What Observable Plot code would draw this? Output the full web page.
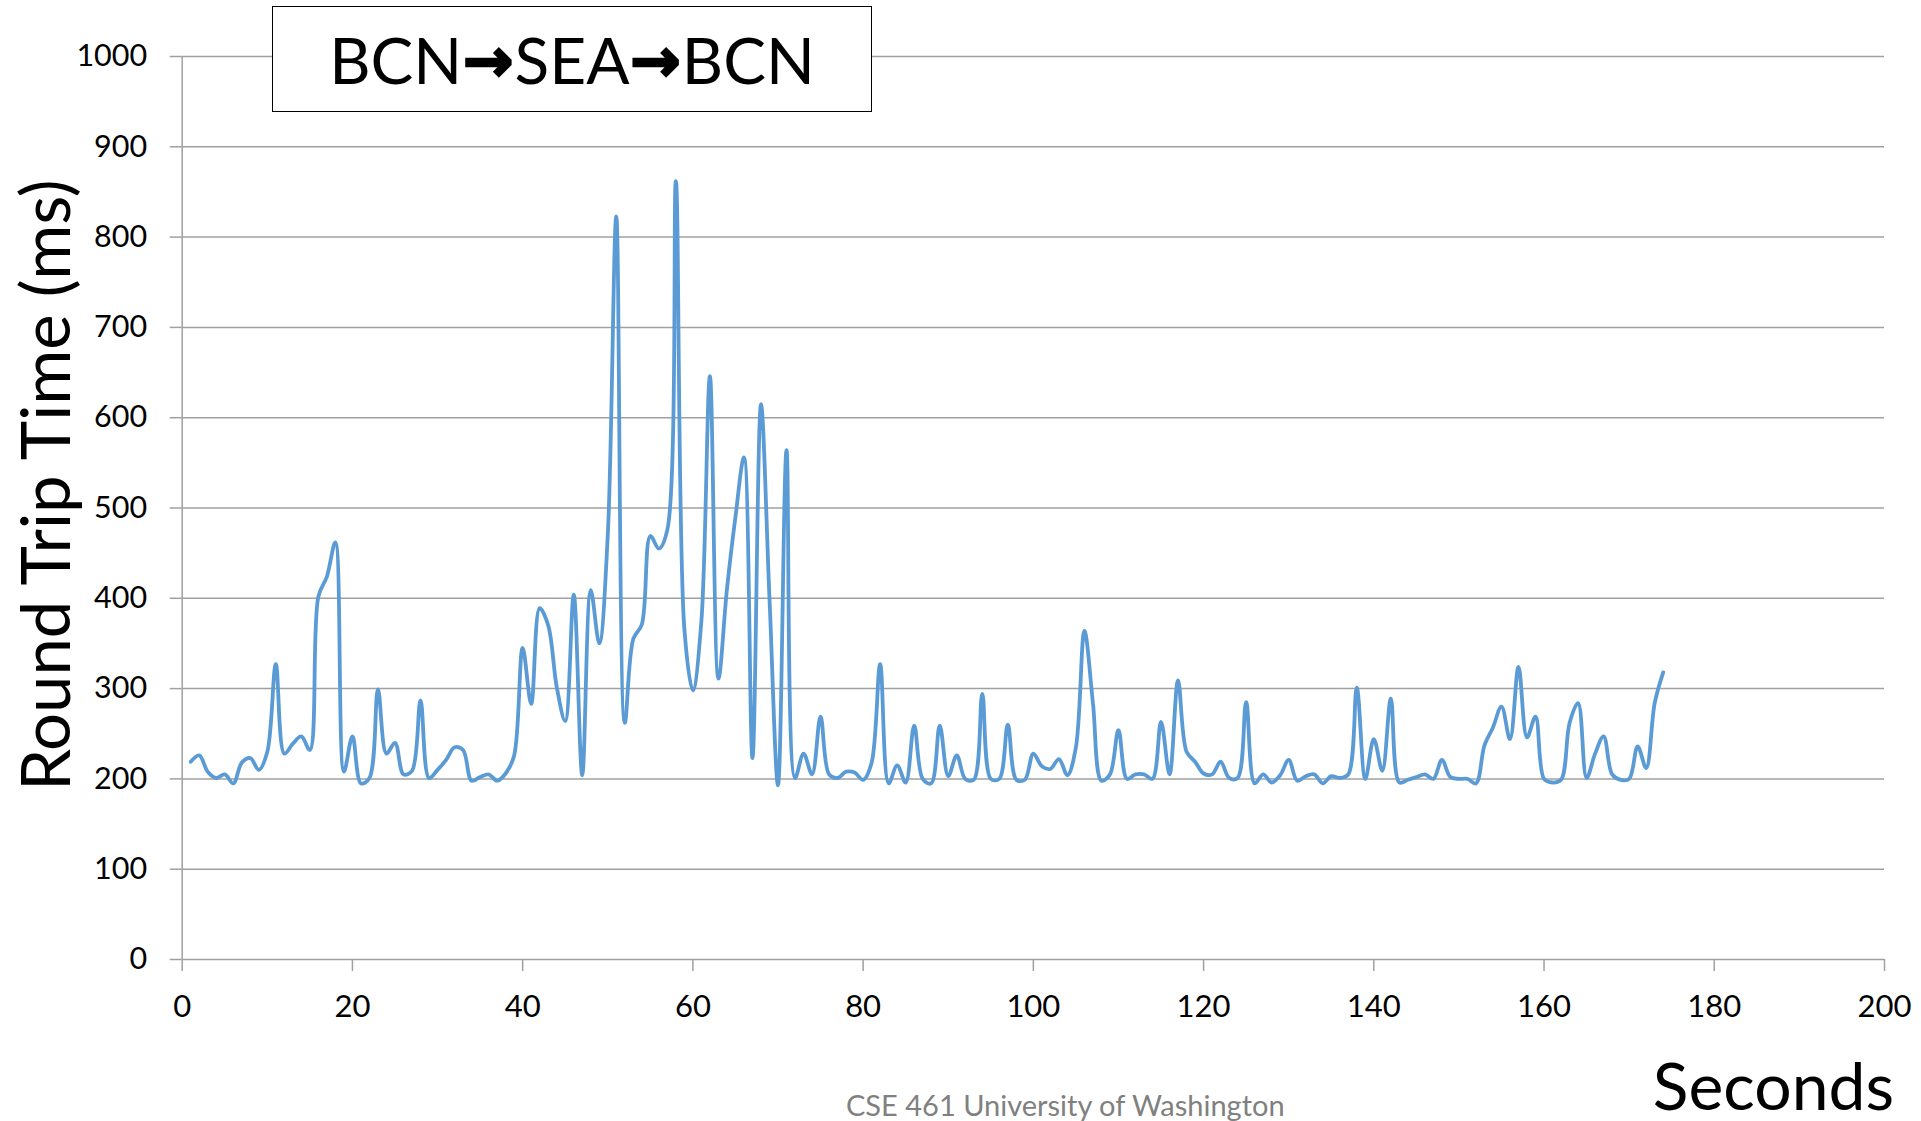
<!DOCTYPE html>
<html>
<head>
<meta charset="utf-8">
<script src="https://cdn.jsdelivr.net/npm/d3@7"></script>
<script src="https://cdn.jsdelivr.net/npm/@observablehq/plot@0.6"></script>
<style>
  html, body { margin: 0; padding: 0; background: #fff; overflow: hidden; }
  #wrap { position: relative; width: 1921px; height: 1121px; font-family: Lato, "Open Sans", sans-serif; }
  #chart { position: absolute; left: 0; top: 0; }
  .title-box { position: absolute; left: 272px; top: 6px; width: 598px; height: 102px; border: 1.5px solid #000; background: #fff;
    display: flex; align-items: center; justify-content: center; font-size: 64px; color: #000; line-height: 1; padding-top: 2px; }
  .arrow { font-family: "DejaVu Sans", sans-serif; font-weight: bold; font-size: 60px; margin: 0 1px; -webkit-text-stroke: 2.5px #000; }
  .ylabel { position: absolute; left: 44px; top: 485px; transform: translate(-50%, -50%) rotate(-90deg); font-size: 67px; line-height: 1; white-space: nowrap; color: #000; }
  .xlabel { position: absolute; right: 27px; top: 1052px; font-size: 66px; line-height: 1; color: #000; white-space: nowrap; }
  .caption { position: absolute; left: 846px; top: 1090px; font-size: 29px; line-height: 1; color: #808080; white-space: nowrap; }
</style>
</head>
<body>
<div id="wrap">
  <div id="chart"></div>
  <div class="title-box"><span>BCN</span><span class="arrow">→</span><span>SEA</span><span class="arrow">→</span><span>BCN</span></div>
  <div class="ylabel">Round Trip Time (ms)</div>
  <div class="xlabel">Seconds</div>
  <div class="caption">CSE 461 University of Washington</div>
</div>
<script>
// Round trip time (ms), one sample per second starting at second 1
const rttMs = [
  219, 226, 208, 201, 205, 195, 218, 223, 210, 230,
  327, 228, 239, 247, 232, 402, 424, 462, 208, 247,
  195, 201, 299, 228, 240, 205, 209, 287, 201, 210,
  221, 235, 232, 198, 202, 205, 198, 206, 226, 345,
  283, 389, 370, 302, 264, 404, 204, 409, 350, 470,
  823, 262, 355, 371, 469, 455, 476, 862, 366, 298,
  375, 646, 311, 410, 490, 556, 223, 615, 400, 193,
  564, 201, 228, 205, 269, 205, 201, 208, 207, 199,
  218, 327, 195, 215, 196, 259, 200, 195, 259, 203,
  226, 200, 199, 294, 200, 200, 260, 199, 199, 228,
  214, 211, 222, 204, 235, 364, 284, 198, 205, 254,
  200, 205, 205, 200, 263, 205, 309, 230, 219, 206,
  205, 219, 201, 201, 285, 195, 205, 196, 204, 221,
  198, 203, 205, 195, 203, 201, 205, 301, 200, 244,
  209, 289, 196, 199, 202, 205, 200, 221, 202, 200,
  200, 195, 237, 257, 280, 244, 324, 246, 269, 200,
  196, 199, 262, 284, 201, 228, 247, 205, 199, 200,
  236, 212, 284, 318
];
const xTicks = [0, 20, 40, 60, 80, 100, 120, 140, 160, 180, 200];
const yTicks = [0, 100, 200, 300, 400, 500, 600, 700, 800, 900, 1000];

const table = rttMs.map((v, i) => ({second: i + 1, rtt: v}));
const grey = "#a0a0a0";

const chart = Plot.plot({
  width: 1921,
  height: 1121,
  marginLeft: 181.7,
  marginRight: 37,
  marginTop: 56,
  marginBottom: 162,
  style: {fontFamily: "Lato, 'Open Sans', sans-serif", fontSize: "30px", color: "#000", background: "transparent"},
  x: {domain: [0, 200]},
  y: {domain: [0, 1000]},
  marks: [
    Plot.gridY(yTicks, {stroke: grey, strokeOpacity: 1, strokeWidth: 1.5}),
    Plot.ruleX([0], {y1: 0, y2: 1000, stroke: grey, strokeWidth: 1.5}),
    Plot.axisY(yTicks, {tickSize: 12, tickPadding: 23, stroke: grey, strokeWidth: 1.5, fontSize: 30.5, label: null, tickFormat: d => String(d)}),
    Plot.axisX(xTicks, {tickSize: 12, tickPadding: 23, stroke: grey, strokeWidth: 1.5, fontSize: 31, label: null, tickFormat: d => String(d)}),
    Plot.line(table, {x: "second", y: "rtt", curve: "catmull-rom", stroke: "#5b9bd5", strokeWidth: 3.8})
  ]
});
document.getElementById("chart").appendChild(chart);
</script>
</body>
</html>
